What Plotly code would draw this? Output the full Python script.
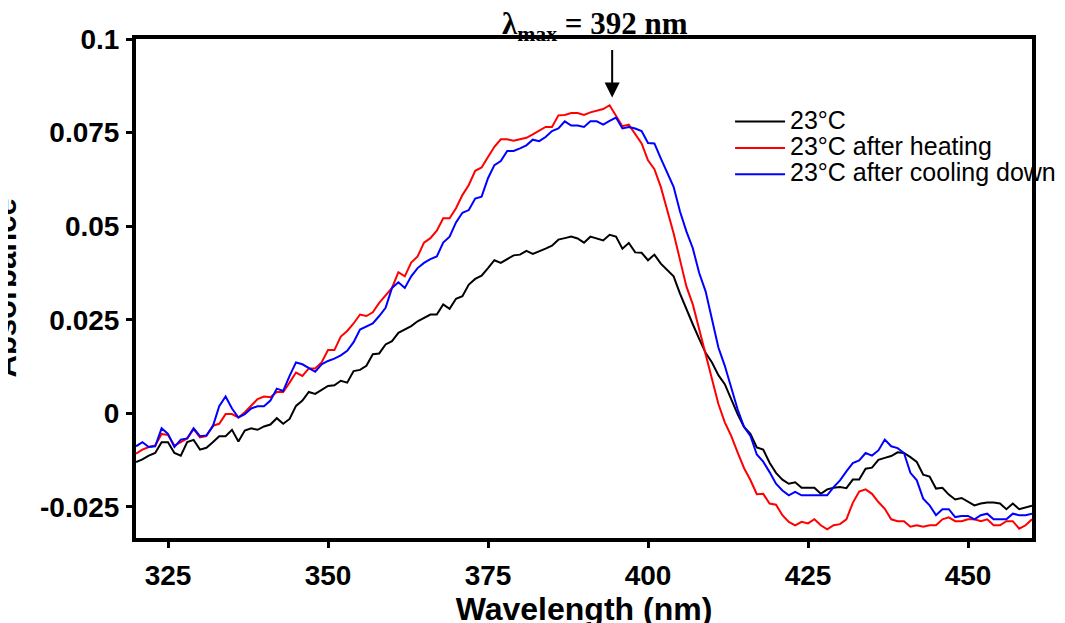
import plotly.graph_objects as go

wavelength = list(range(320, 461))

abs_23c = [
    -0.0130, -0.0123, -0.0113, -0.0106, -0.0077, -0.0077, -0.0106, -0.0113, -0.0077, -0.0071,
    -0.0097, -0.0092, -0.0077, -0.0061, -0.0061, -0.0044, -0.0075, -0.0046, -0.0040, -0.0044,
    -0.0035, -0.0030, -0.0013, -0.0028, -0.0015, 0.0020, 0.0034, 0.0057, 0.0052, 0.0063,
    0.0073, 0.0075, 0.0087, 0.0082, 0.0113, 0.0116, 0.0127, 0.0158, 0.0160, 0.0184,
    0.0193, 0.0215, 0.0224, 0.0233, 0.0246, 0.0255, 0.0264, 0.0264, 0.0291, 0.0279,
    0.0306, 0.0313, 0.0344, 0.0359, 0.0368, 0.0388, 0.0409, 0.0402, 0.0412, 0.0422,
    0.0424, 0.0434, 0.0426, 0.0432, 0.0440, 0.0448, 0.0464, 0.0468, 0.0472, 0.0467,
    0.0456, 0.0472, 0.0466, 0.0462, 0.0477, 0.0472, 0.0440, 0.0455, 0.0430, 0.0429,
    0.0409, 0.0424, 0.0400, 0.0384, 0.0366, 0.0320, 0.0277, 0.0238, 0.0199, 0.0162,
    0.0136, 0.0102, 0.0078, 0.0038, -0.0002, -0.0036, -0.0055, -0.0091, -0.0097, -0.0132,
    -0.0159, -0.0177, -0.0188, -0.0184, -0.0199, -0.0199, -0.0199, -0.0215, -0.0203, -0.0199,
    -0.0197, -0.0200, -0.0177, -0.0177, -0.0148, -0.0145, -0.0124, -0.0119, -0.0114, -0.0104,
    -0.0106, -0.0117, -0.0130, -0.0164, -0.0169, -0.0201, -0.0199, -0.0217, -0.0230, -0.0226,
    -0.0235, -0.0246, -0.0241, -0.0238, -0.0238, -0.0241, -0.0256, -0.0241, -0.0256, -0.0251,
    -0.0247,
]

abs_after_heating = [
    -0.0108, -0.0097, -0.0090, -0.0086, -0.0055, -0.0058, -0.0086, -0.0077, -0.0067, -0.0042,
    -0.0064, -0.0061, -0.0033, -0.0028, -0.0002, -0.0002, -0.0011, 0.0003, 0.0022, 0.0038,
    0.0045, 0.0043, 0.0057, 0.0057, 0.0082, 0.0109, 0.0100, 0.0120, 0.0120, 0.0136,
    0.0169, 0.0169, 0.0205, 0.0220, 0.0240, 0.0264, 0.0260, 0.0270, 0.0295, 0.0315,
    0.0335, 0.0377, 0.0366, 0.0403, 0.0419, 0.0456, 0.0468, 0.0488, 0.0521, 0.0521,
    0.0548, 0.0583, 0.0610, 0.0648, 0.0657, 0.0685, 0.0712, 0.0732, 0.0732, 0.0728,
    0.0732, 0.0736, 0.0745, 0.0756, 0.0765, 0.0765, 0.0796, 0.0797, 0.0802, 0.0802,
    0.0797, 0.0804, 0.0809, 0.0813, 0.0823, 0.0796, 0.0767, 0.0771, 0.0747, 0.0721,
    0.0676, 0.0652, 0.0605, 0.0543, 0.0481, 0.0410, 0.0339, 0.0291, 0.0224, 0.0153,
    0.0091, 0.0025, -0.0024, -0.0060, -0.0104, -0.0146, -0.0178, -0.0216, -0.0215, -0.0241,
    -0.0244, -0.0272, -0.0290, -0.0299, -0.0290, -0.0294, -0.0283, -0.0299, -0.0310, -0.0299,
    -0.0296, -0.0283, -0.0239, -0.0209, -0.0203, -0.0215, -0.0237, -0.0255, -0.0283, -0.0288,
    -0.0288, -0.0303, -0.0299, -0.0303, -0.0299, -0.0299, -0.0283, -0.0278, -0.0288, -0.0288,
    -0.0283, -0.0283, -0.0288, -0.0283, -0.0299, -0.0299, -0.0288, -0.0288, -0.0308, -0.0299,
    -0.0283,
]

abs_after_cooling = [
    -0.0088, -0.0077, -0.0090, -0.0088, -0.0040, -0.0055, -0.0090, -0.0070, -0.0067, -0.0040,
    -0.0061, -0.0059, -0.0035, 0.0019, 0.0045, 0.0013, -0.0011, -0.0002, 0.0013, 0.0019,
    0.0019, 0.0034, 0.0066, 0.0060, 0.0100, 0.0136, 0.0131, 0.0122, 0.0111, 0.0131,
    0.0140, 0.0146, 0.0155, 0.0167, 0.0190, 0.0224, 0.0233, 0.0240, 0.0260, 0.0282,
    0.0335, 0.0350, 0.0335, 0.0366, 0.0388, 0.0402, 0.0412, 0.0419, 0.0456, 0.0472,
    0.0510, 0.0536, 0.0543, 0.0574, 0.0579, 0.0628, 0.0663, 0.0674, 0.0701, 0.0701,
    0.0708, 0.0716, 0.0731, 0.0727, 0.0738, 0.0754, 0.0761, 0.0780, 0.0769, 0.0769,
    0.0765, 0.0780, 0.0780, 0.0771, 0.0781, 0.0790, 0.0761, 0.0765, 0.0761, 0.0754,
    0.0722, 0.0721, 0.0681, 0.0645, 0.0605, 0.0539, 0.0486, 0.0441, 0.0375, 0.0326,
    0.0251, 0.0176, 0.0127, 0.0069, 0.0011, -0.0036, -0.0060, -0.0110, -0.0129, -0.0157,
    -0.0188, -0.0206, -0.0219, -0.0210, -0.0219, -0.0219, -0.0219, -0.0219, -0.0219, -0.0197,
    -0.0179, -0.0155, -0.0133, -0.0126, -0.0106, -0.0113, -0.0099, -0.0070, -0.0088, -0.0093,
    -0.0106, -0.0159, -0.0179, -0.0228, -0.0246, -0.0272, -0.0256, -0.0256, -0.0277, -0.0274,
    -0.0274, -0.0283, -0.0272, -0.0268, -0.0283, -0.0283, -0.0283, -0.0268, -0.0272, -0.0272,
    -0.0268,
]

series_names = ["23°C", "23°C after heating", "23°C after cooling down"]
series_colors = ["#000000", "#FF0000", "#0000FF"]

x_tickvals = [325, 350, 375, 400, 425, 450]
y_tickvals = [-0.025, 0, 0.025, 0.05, 0.075, 0.1]
y_ticktext = ["-0.025", "0", "0.025", "0.05", "0.075", "0.1"]

SANS = "Arial, Liberation Sans, sans-serif"
SERIF = "Times New Roman, Liberation Serif, serif"

fig = go.Figure()
for name, color, ys in zip(series_names, series_colors,
                           [abs_23c, abs_after_heating, abs_after_cooling]):
    fig.add_trace(go.Scatter(
        x=wavelength, y=ys, mode="lines",
        name='<span style="font-size:25px">' + name + '</span>',
        line=dict(color=color, width=2),
    ))

fig.update_layout(
    width=1065, height=623,
    margin=dict(l=128, r=41, t=31, b=91),
    paper_bgcolor="white", plot_bgcolor="white",
    showlegend=True,
    legend=dict(
        x=0.663, y=0.871, xanchor="left", yanchor="top",
        font=dict(family=SANS, size=18, color="black"),
        bgcolor="rgba(0,0,0,0)", tracegroupgap=0, itemwidth=50,
    ),
    xaxis=dict(
        range=[320, 460], tickvals=x_tickvals,
        showline=True, linecolor="black", linewidth=4, mirror=True,
        ticks="outside", ticklen=6, tickwidth=3, tickcolor="black",
        showgrid=False, zeroline=False,
        tickfont=dict(family=SANS, size=28, color="black", weight="bold"),
        ticklabelstandoff=3,
        title=dict(text="Wavelength (nm)", standoff=6,
                   font=dict(family=SANS, size=32, color="black", weight="bold")),
    ),
    yaxis=dict(
        range=[-0.0333, 0.1], tickvals=y_tickvals, ticktext=y_ticktext,
        showline=True, linecolor="black", linewidth=4, mirror=True,
        ticks="outside", ticklen=6, tickwidth=3, tickcolor="black",
        showgrid=False, zeroline=False,
        tickfont=dict(family=SANS, size=28, color="black", weight="bold"),
        ticklabelstandoff=1,
    ),
    annotations=[
        dict(text="<b>λ<sub>max</sub> = 392 nm</b>", xref="paper", yref="paper",
             x=0.5123, y=1.026, xanchor="center", yanchor="middle",
             showarrow=False, font=dict(family=SERIF, size=31, color="black")),
        dict(text="", x=394.4, y=0.0844, xref="x", yref="y",
             ax=0, ay=-49, showarrow=True, arrowhead=2, arrowsize=1.5,
             arrowwidth=2, arrowcolor="black"),
        dict(text="<b>Absorbance</b>", xref="paper", yref="paper",
             x=-0.1462, y=0.5, xanchor="center", yanchor="middle",
             textangle=-90, showarrow=False,
             font=dict(family=SANS, size=31, color="black")),
    ],
)

fig.write_html("out.html")
